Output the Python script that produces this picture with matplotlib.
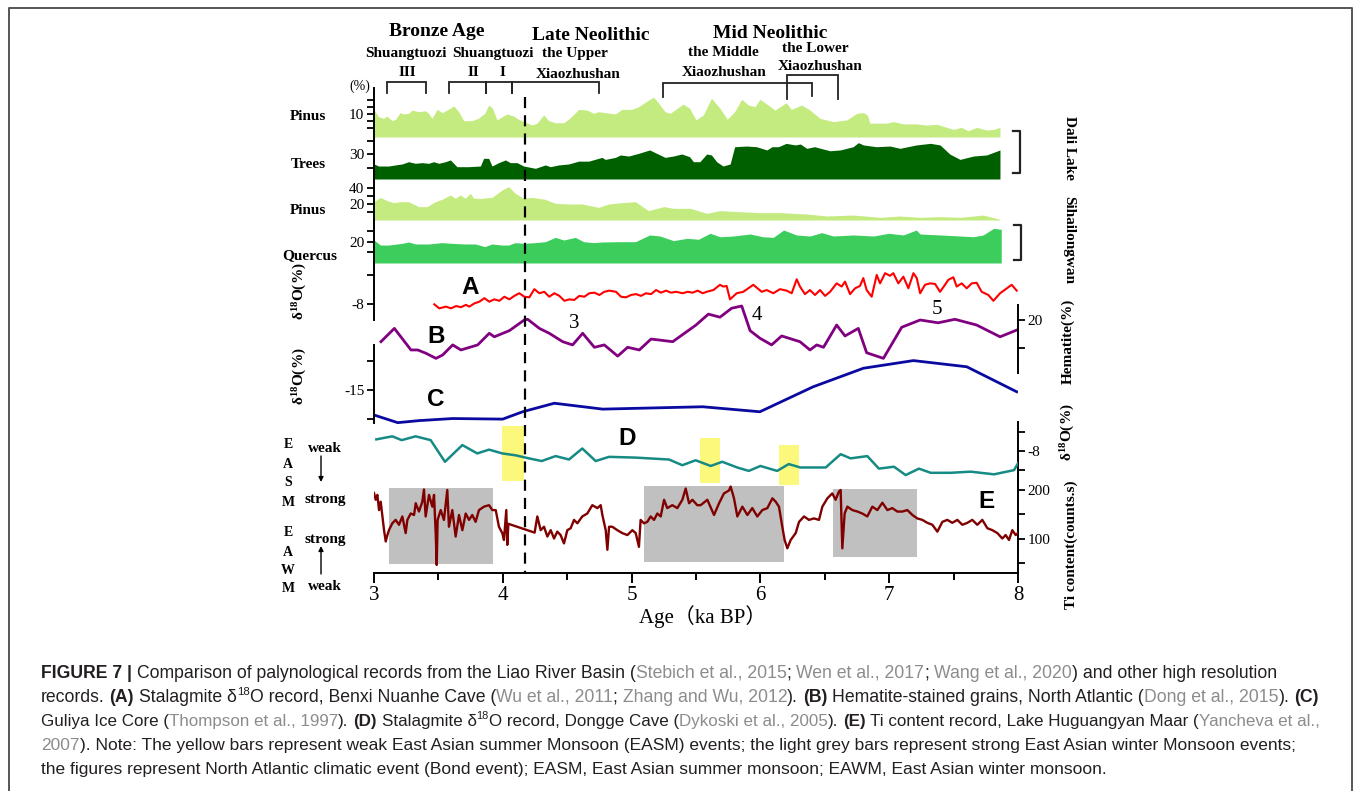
import matplotlib
matplotlib.use("Agg")
import matplotlib.pyplot as plt
from matplotlib.lines import Line2D

W, H = 1355, 791
X0, X1 = 374, 1018          # pixel columns of 3 ka and 8 ka

# ---------------- data (age in ka BP) ----------------
# Dali Lake Pinus (%)
pinus_dali_age = [3.00, 3.036, 3.075, 3.10, 3.14, 3.166, 3.204, 3.23, 3.27, 3.295, 3.347, 3.40,
                  3.424, 3.45, 3.49, 3.53, 3.567, 3.62, 3.657, 3.696, 3.76, 3.81, 3.86, 3.89,
                  3.92, 3.955, 3.994, 4.033, 4.084, 4.123, 4.162, 4.227, 4.266, 4.317, 4.356,
                  4.408, 4.473, 4.51, 4.59, 4.654, 4.705, 4.744, 4.796, 4.874, 4.925, 5.003,
                  5.055, 5.133, 5.17, 5.21, 5.26, 5.30, 5.40, 5.45, 5.50, 5.557, 5.62, 5.686,
                  5.743, 5.80, 5.855, 5.906, 5.958, 5.996, 6.06, 6.113, 6.20, 6.24, 6.32,
                  6.385, 6.463, 6.566, 6.67, 6.75, 6.80, 6.83, 6.85, 6.98, 7.032, 7.11, 7.21,
                  7.29, 7.37, 7.50, 7.56, 7.613, 7.68, 7.757, 7.81, 7.86]
pinus_dali = [11.7, 8.8, 8.1, 9.1, 7.1, 7.7, 10.6, 10.0, 10.3, 11.7, 11.0, 11.4,
              10.3, 8.1, 12.0, 10.6, 11.7, 13.5, 11.0, 7.1, 7.1, 8.1, 10.3, 13.9,
              12.5, 7.4, 8.8, 10.0, 9.1, 7.7, 6.7, 5.2, 6.0, 9.6, 7.1,
              6.2, 6.2, 7.7, 12.0, 11.7, 10.3, 11.0, 10.6, 10.0, 12.0, 12.0,
              13.2, 16.1, 17.3, 14.7, 11.0, 10.3, 14.3, 12.5, 7.4, 9.6, 16.8, 12.5,
              7.7, 11.0, 16.4, 13.9, 13.2, 16.4, 13.9, 11.7, 14.9, 12.0, 13.9,
              11.7, 8.1, 6.7, 7.4, 10.3, 10.6, 9.6, 6.0, 6.0, 6.7, 5.7, 5.7,
              5.2, 5.5, 3.3, 4.2, 2.7, 4.2, 3.0, 3.3, 4.2]

# Dali Lake trees (%)
trees_age = [3.0, 3.036, 3.114, 3.166, 3.217, 3.269, 3.321, 3.373, 3.424, 3.463, 3.502, 3.554,
             3.593, 3.644, 3.735, 3.826, 3.851, 3.89, 3.916, 3.968, 4.02, 4.058, 4.11, 4.162,
             4.253, 4.33, 4.369, 4.434, 4.511, 4.589, 4.667, 4.744, 4.77, 4.796, 4.874, 4.913,
             4.977, 5.055, 5.14, 5.26, 5.325, 5.39, 5.45, 5.48, 5.53, 5.583, 5.62, 5.66, 5.71,
             5.765, 5.80, 5.893, 5.97, 6.05, 6.09, 6.14, 6.20, 6.27, 6.31, 6.36, 6.42, 6.54,
             6.62, 6.72, 6.76, 6.80, 6.90, 7.006, 7.084, 7.21, 7.32, 7.395, 7.47, 7.55, 7.654,
             7.757, 7.86]
trees = [22.6, 21.1, 21.1, 21.9, 22.6, 24.3, 23.1, 23.6, 23.1, 24.3, 23.1, 24.3,
         25.6, 20.6, 20.6, 21.1, 26.8, 26.8, 21.1, 23.6, 25.6, 23.6, 23.6, 21.1,
         19.4, 21.9, 20.6, 21.9, 22.6, 24.7, 24.7, 26.8, 27.5, 26.0, 27.5, 29.3,
         28.5, 30.5, 33.0, 27.5, 28.5, 30.0, 28.0, 24.3, 24.3, 30.0, 29.3, 24.3, 21.1,
         22.6, 35.4, 35.9, 35.4, 33.0, 35.4, 35.4, 37.9, 36.7, 37.4, 34.2, 35.4, 32.4,
         33.0, 35.4, 38.4, 36.7, 35.4, 35.9, 34.2, 36.7, 37.9, 36.7, 30.0, 26.0, 28.5,
         29.3, 33.0]

# Sihailongwan Pinus (%)
pinus_siha_age = [3.0, 3.049, 3.101, 3.153, 3.204, 3.269, 3.347, 3.411, 3.476, 3.528, 3.593,
                  3.631, 3.67, 3.709, 3.748, 3.774, 3.839, 3.916, 3.994, 4.046, 4.097, 4.162,
                  4.227, 4.33, 4.408, 4.511, 4.615, 4.693, 4.744, 4.822, 4.925, 5.029, 5.13,
                  5.25, 5.325, 5.455, 5.583, 5.686, 5.84, 5.996, 6.15, 6.36, 6.515, 6.72,
                  6.93, 7.084, 7.24, 7.395, 7.55, 7.73, 7.86]
pinus_siha = [22.9, 28.3, 24.2, 21.7, 22.9, 22.9, 16.7, 16.7, 22.9, 25.8, 31.3,
              27.1, 31.3, 27.1, 33.3, 27.1, 27.1, 28.3, 37.5, 41.7, 33.3, 27.1,
              28.3, 25.8, 20.8, 20.0, 20.0, 17.5, 15.8, 20.0, 21.7, 22.9, 11.7,
              16.7, 14.6, 14.6, 8.3, 11.7, 10.4, 9.2, 9.2, 7.5, 5.0, 6.2,
              3.3, 5.0, 3.3, 4.2, 3.3, 6.2, 0.8]

# Sihailongwan Quercus (%)
quercus_age = [3.0, 3.049, 3.114, 3.217, 3.269, 3.321, 3.424, 3.528, 3.606, 3.71, 3.787, 3.86,
               3.916, 3.994, 4.046, 4.097, 4.162, 4.253, 4.33, 4.408, 4.473, 4.563, 4.628,
               4.705, 4.77, 4.9, 5.03, 5.14, 5.22, 5.325, 5.43, 5.52, 5.61, 5.686, 5.79, 5.92,
               6.02, 6.10, 6.18, 6.28, 6.385, 6.476, 6.566, 6.72, 6.88, 6.995, 7.11, 7.21,
               7.24, 7.395, 7.55, 7.654, 7.73, 7.81, 7.87]
quercus = [21.9, 17.1, 17.1, 18.7, 20.0, 18.1, 18.1, 19.4, 18.7, 18.1, 18.1, 15.6,
           18.1, 17.1, 17.1, 19.4, 18.7, 19.4, 20.3, 24.4, 21.9, 24.4, 20.3,
           19.4, 20.0, 20.3, 20.3, 26.7, 25.7, 21.3, 23.5, 22.6, 28.3, 25.0, 25.7, 27.6,
           25.0, 24.4, 31.4, 26.7, 25.7, 28.9, 25.7, 26.7, 25.7, 28.3, 26.7, 31.4,
           27.6, 26.7, 25.7, 25.0, 26.7, 33.0, 32.1]

# (A) Nuanhe Cave stalagmite d18O
a_age = [3.468, 3.507, 3.559, 3.598, 3.637, 3.675, 3.714, 3.740, 3.779, 3.818, 3.857, 3.895,
         3.934, 3.973, 4.012, 4.051, 4.090, 4.128, 4.167, 4.206, 4.245, 4.284, 4.322, 4.361,
         4.400, 4.439, 4.478, 4.517, 4.555, 4.594, 4.633, 4.672, 4.711, 4.750, 4.788, 4.827,
         4.879, 4.918, 4.957, 4.995, 5.034, 5.073, 5.112, 5.151, 5.190, 5.228, 5.267, 5.306,
         5.345, 5.397, 5.435, 5.474, 5.513, 5.552, 5.583, 5.635, 5.686, 5.712, 5.738, 5.764,
         5.816, 5.867, 5.945, 6.010, 6.049, 6.100, 6.152, 6.204, 6.243, 6.282, 6.307, 6.346,
         6.385, 6.424, 6.463, 6.502, 6.541, 6.592, 6.631, 6.657, 6.696, 6.735, 6.773, 6.799,
         6.825, 6.864, 6.903, 6.929, 6.968, 7.006, 7.032, 7.071, 7.110, 7.149, 7.188, 7.214,
         7.240, 7.278, 7.317, 7.356, 7.395, 7.433, 7.459, 7.498, 7.524, 7.563, 7.602, 7.641,
         7.679, 7.718, 7.770, 7.809, 7.861, 7.951, 7.990]
a_d18o = [-8.01, -8.15, -8.09, -8.15, -8.07, -8.11, -8.03, -8.09, -7.98, -7.92, -7.80, -7.92,
          -7.84, -7.89, -7.75, -7.84, -7.72, -7.63, -7.75, -7.77, -7.49, -7.63, -7.58, -7.75,
          -7.63, -7.72, -7.89, -7.84, -7.86, -7.72, -7.75, -7.63, -7.61, -7.69, -7.58, -7.54,
          -7.58, -7.75, -7.77, -7.69, -7.66, -7.72, -7.63, -7.66, -7.52, -7.61, -7.54, -7.61,
          -7.58, -7.63, -7.58, -7.61, -7.54, -7.63, -7.58, -7.52, -7.34, -7.40, -7.38, -7.84,
          -7.63, -7.58, -7.34, -7.58, -7.52, -7.63, -7.49, -7.54, -7.63, -7.15, -7.40, -7.66,
          -7.52, -7.69, -7.52, -7.72, -7.58, -7.29, -7.40, -7.23, -7.66, -7.46, -7.38, -7.11,
          -7.52, -7.75, -7.00, -7.29, -6.94, -7.03, -6.94, -7.29, -7.06, -7.46, -6.94, -7.11,
          -7.63, -7.34, -7.29, -7.31, -7.58, -7.34, -7.17, -7.08, -7.40, -7.29, -7.46, -7.29,
          -7.27, -7.58, -7.69, -7.89, -7.63, -7.34, -7.54]

# (B) North Atlantic hematite-stained grains (%)
b_age = [3.054, 3.158, 3.287, 3.339, 3.404, 3.481, 3.533, 3.611, 3.675, 3.805, 3.895, 3.934,
         4.051, 4.167, 4.193, 4.284, 4.361, 4.465, 4.542, 4.62, 4.711, 4.788, 4.892, 4.969,
         5.06, 5.151, 5.319, 5.50, 5.596, 5.686, 5.777, 5.855, 5.92, 5.996, 6.087, 6.165,
         6.307, 6.385, 6.437, 6.49, 6.592, 6.657, 6.76, 6.825, 6.955, 7.097, 7.24, 7.38,
         7.51, 7.679, 7.861, 7.99]
b_hem = [12.25, 17.0, 9.3, 9.3, 8.1, 6.3, 7.5, 11.1, 9.3, 11.1, 15.25, 14.0,
         16.2, 20.0, 20.25, 17.0, 15.25, 12.25, 11.1, 15.25, 10.25, 11.1, 7.1, 10.25,
         9.3, 13.2, 12.25, 18.2, 22.1, 21.0, 24.2, 25.0, 16.2, 13.5, 11.1, 14.3,
         12.25, 9.3, 11.1, 10.25, 18.2, 14.3, 17.0, 8.3, 6.3, 17.4, 20.0, 19.0,
         20.25, 18.2, 14.0, 16.4]

# (C) Guliya ice core d18O
c_age = [3.0, 3.184, 3.352, 3.611, 3.999, 4.154, 4.40, 4.775, 5.552, 5.996, 6.41, 6.80,
         7.188, 7.602, 7.99]
c_d18o = [-15.85, -16.11, -16.04, -15.97, -15.99, -15.74, -15.45, -15.65, -15.57, -15.74,
          -14.89, -14.26, -14.0, -14.21, -15.06]

# (D) Dongge Cave stalagmite d18O
d_age = [3.018, 3.142, 3.215, 3.323, 3.44, 3.551, 3.686, 3.802, 3.893, 3.996, 4.10, 4.203,
         4.302, 4.41, 4.514, 4.617, 4.721, 4.825, 5.032, 5.29, 5.394, 5.497, 5.614, 5.704,
         5.82, 5.91, 6.0, 6.13, 6.22, 6.31, 6.507, 6.623, 6.70, 6.83, 6.92, 7.037, 7.128,
         7.231, 7.322, 7.477, 7.632, 7.814, 7.969, 8.0]
d_d18o = [-7.69, -7.61, -7.71, -7.61, -7.71, -8.28, -7.84, -8.06, -7.96, -8.06, -8.11, -8.19,
          -8.26, -8.13, -8.22, -7.93, -8.26, -8.15, -8.17, -8.22, -8.37, -8.24, -8.39, -8.28,
          -8.43, -8.52, -8.39, -8.52, -8.34, -8.43, -8.43, -8.08, -8.19, -8.13, -8.46, -8.41,
          -8.63, -8.46, -8.57, -8.57, -8.54, -8.61, -8.50, -8.32]

# (E) Lake Huguangyan Maar Ti content (counts/s)
e_age = [3.000, 3.013, 3.026, 3.039, 3.052, 3.065, 3.078, 3.091, 3.104, 3.116, 3.142, 3.168,
         3.194, 3.220, 3.246, 3.259, 3.285, 3.311, 3.324, 3.349, 3.375, 3.388, 3.401, 3.427,
         3.453, 3.466, 3.479, 3.487, 3.494, 3.518, 3.543, 3.569, 3.582, 3.608, 3.634, 3.660,
         3.686, 3.712, 3.738, 3.763, 3.789, 3.815, 3.854, 3.893, 3.919, 3.945, 3.970, 3.996,
         4.009, 4.027, 4.035, 4.043, 4.247, 4.268, 4.294, 4.320, 4.346, 4.372, 4.398, 4.423,
         4.449, 4.475, 4.501, 4.527, 4.553, 4.579, 4.617, 4.656, 4.695, 4.734, 4.760, 4.773,
         4.799, 4.812, 4.825, 4.850, 4.889, 4.928, 4.967, 5.006, 5.032, 5.057, 5.070, 5.096,
         5.122, 5.148, 5.174, 5.200, 5.226, 5.252, 5.277, 5.316, 5.355, 5.394, 5.420, 5.446,
         5.472, 5.510, 5.536, 5.588, 5.640, 5.679, 5.717, 5.756, 5.769, 5.795, 5.821, 5.860,
         5.899, 5.937, 5.976, 6.015, 6.054, 6.093, 6.119, 6.144, 6.170, 6.188, 6.209, 6.235,
         6.274, 6.300, 6.339, 6.377, 6.416, 6.455, 6.481, 6.520, 6.558, 6.584, 6.610, 6.623,
         6.636, 6.654, 6.675, 6.714, 6.753, 6.791, 6.830, 6.869, 6.908, 6.947, 6.986, 7.024,
         7.063, 7.102, 7.141, 7.180, 7.218, 7.257, 7.296, 7.335, 7.374, 7.413, 7.451, 7.490,
         7.529, 7.568, 7.607, 7.645, 7.684, 7.723, 7.762, 7.801, 7.840, 7.878, 7.904, 7.930,
         7.956, 7.982, 8.000]
e_ti = [194, 180, 190, 159, 176, 146, 118, 95, 108, 118, 132, 139,
        129, 146, 112, 139, 152, 149, 173, 156, 176, 201, 146, 190,
        166, 190, 112, 47, 139, 159, 139, 200, 125, 159, 105, 149,
        118, 152, 139, 149, 135, 159, 166, 169, 159, 159, 125, 112,
        98, 159, 88, 131, 113, 146, 118, 125, 105, 118, 101, 115,
        108, 91, 118, 122, 139, 132, 146, 152, 169, 163, 169, 149,
        118, 78, 125, 125, 118, 112, 108, 118, 112, 84, 139, 132,
        135, 146, 139, 152, 146, 180, 163, 169, 163, 180, 203, 173,
        180, 169, 169, 180, 149, 173, 193, 199, 207, 183, 146, 166,
        149, 163, 146, 159, 163, 183, 176, 166, 125, 98, 81, 98,
        112, 135, 146, 139, 142, 139, 166, 183, 193, 180, 197, 200,
        81, 152, 166, 159, 156, 152, 146, 166, 159, 174, 159, 163,
        156, 156, 159, 149, 142, 139, 133, 129, 115, 135, 139, 133,
        139, 129, 133, 139, 129, 139, 122, 118, 112, 101, 108, 98,
        118, 108, 112]

# archaeological cultures (brackets at the top)
culture_start = [3.10, 3.58, 3.87, 4.07, 5.24, 6.21]
culture_end = [3.40, 3.87, 4.07, 4.75, 6.40, 6.60]
boundary_age = 4.17                      # dashed line
weak_easm = [(3.99, 4.165), (5.53, 5.686), (6.144, 6.30)]     # yellow bars
strong_eawm = [(3.116, 3.924), (5.096, 6.183), (6.564, 7.216)]  # grey bars
bond_events = ['3', '4', '5']

# ---------------- style ----------------
plt.rcParams['font.family'] = ['Liberation Serif', 'DejaVu Serif']
plt.rcParams['mathtext.fontset'] = 'custom'
plt.rcParams['mathtext.rm'] = 'Liberation Serif:bold'
plt.rcParams['mathtext.it'] = 'Liberation Serif:bold'
plt.rcParams['mathtext.bf'] = 'Liberation Serif:bold'
SANS = ['Liberation Sans', 'DejaVu Sans']

fig = plt.figure(figsize=(W / 100, H / 100), dpi=100)


def fx(x):
    return x / W


def fy(y):
    return 1 - y / H


def add_ax(top, bottom):
    ax = fig.add_axes([fx(X0), fy(bottom), (X1 - X0) / W, (bottom - top) / H])
    ax.patch.set_alpha(0)
    ax.set_xlim(3, 8)
    for s in ax.spines.values():
        s.set_visible(False)
        s.set_linewidth(1.4)
    ax.set_xticks([])
    ax.tick_params(axis='y', which='major', length=5, width=1.3, labelsize=11, pad=2)
    ax.tick_params(axis='y', which='minor', length=5, width=1.3)
    return ax


def yaxis(ax, side, major, labels, minor, bounds=None):
    ax.spines[side].set_visible(True)
    if bounds is not None:
        ax.spines[side].set_bounds(*bounds)
    if side == 'right':
        ax.yaxis.tick_right()
    else:
        ax.yaxis.tick_left()
    ax.set_yticks(major, labels)
    ax.set_yticks(minor, minor=True)


# pollen panels
ax1 = add_ax(88, 137)
ax1.set_ylim(0, 21.3)
ax1.fill_between(pinus_dali_age, pinus_dali, 0, color='#c4eb80', lw=0)
yaxis(ax1, 'left', [10], ['10'], [4, 7, 13, 16])

ax2 = add_ax(137, 179)
ax2.set_ylim(11.48, 42.6)
ax2.fill_between(trees_age, trees, 11.48, color='#006000', lw=0)
yaxis(ax2, 'left', [30], ['30'], [20, 40])

ax3 = add_ax(179, 220)
ax3.set_ylim(0, 51.25)
ax3.fill_between(pinus_siha_age, pinus_siha, 0, color='#c4eb80', lw=0)
yaxis(ax3, 'left', [20, 40], ['20', '40'], [10, 30])

ax4 = add_ax(220, 263)
ax4.set_ylim(0, 40.95)
ax4.fill_between(quercus_age, quercus, 0, color='#3ccd5c', lw=0)
yaxis(ax4, 'left', [20], ['20'], [10, 30])

# A
axa = add_ax(263, 320)
axa.set_ylim(-8.55, -6.59)
axa.plot(a_age, a_d18o, color='#ff0000', lw=1.5)
yaxis(axa, 'left', [-8], ['-8'], [-7])

# B
axb = add_ax(300, 376)
axb.set_ylim(0, 27.14)
axb.plot(b_age, b_hem, color='#800080', lw=2)
yaxis(axb, 'right', [20], ['20'], [10], bounds=(1.07, 25.4))

# C
axc = add_ax(345, 425)
axc.set_ylim(-16.19, -13.47)
axc.plot(c_age, c_d18o, color='#0a0aa0', lw=2)
yaxis(axc, 'left', [-15], ['-15'], [-16, -14], bounds=(-16.12, -13.47))

# D
axd = add_ax(420, 488)
axd.set_ylim(-8.97, -7.18)
for (s, e), (lo, hi) in zip(weak_easm, [(0.103, 0.912), (0.074, 0.735), (0.044, 0.632)]):
    axd.axvspan(s, e, lo, hi, color='#fcf87c', lw=0, zorder=0)
axd.plot(d_age, d_d18o, color='#168a84', lw=1.8, zorder=3)
yaxis(axd, 'right', [-8], ['-8'], [-7.5, -8.5], bounds=(-8.97, -7.24))

# E
axe = add_ax(470, 573)
axe.set_ylim(30.6, 240.8)
for (s, e), (lo, hi) in zip(strong_eawm, [(0.087, 0.825), (0.107, 0.845), (0.155, 0.816)]):
    axe.axvspan(s, e, lo, hi, color='#c0c0c0', lw=0, zorder=0)
axe.plot(e_age, e_ti, color='#800000', lw=1.7, zorder=3)
yaxis(axe, 'right', [100, 200], ['100', '200'], [50, 150])
axe.spines['bottom'].set_visible(True)
axe.set_xticks([3, 4, 5, 6, 7, 8], ['3', '4', '5', '6', '7', '8'])
axe.set_xticks([3.5, 4.5, 5.5, 6.5, 7.5], minor=True)
axe.tick_params(axis='x', which='major', length=7, width=1.4, labelsize=15, pad=2)
axe.tick_params(axis='x', which='minor', length=5, width=1.4)

# overlay in pixel rows: culture brackets and boundary line
ov = fig.add_axes([fx(X0), 0, (X1 - X0) / W, 1])
ov.patch.set_alpha(0)
ov.axis('off')
ov.set_xlim(3, 8)
ov.set_ylim(H, 0)
bk = dict(color='#222222', lw=1.3, solid_joinstyle='miter')
for s, e in zip(culture_start[:4], culture_end[:4]):
    ov.plot([s, s, e, e], [93, 82, 82, 93], **bk)
ov.plot([culture_start[4], culture_start[4], culture_end[4], culture_end[4]], [97, 83, 83, 96], **bk)
ov.plot([culture_start[5], culture_start[5], culture_end[5], culture_end[5]], [99, 75, 75, 99], **bk)
ov.plot([boundary_age, boundary_age], [97, 573], color='k', lw=1.6, ls=(0, (5, 3.2)))

# right-side site brackets
for top, bot, x in [(131, 173, 1020), (225, 260, 1021)]:
    fig.add_artist(Line2D([fx(x - 7), fx(x), fx(x), fx(x - 7)], [fy(top), fy(top), fy(bot), fy(bot)],
                          color='#222222', lw=1.6))


def t(x, y, s, size=11, bold=True, **kw):
    kw.setdefault('ha', 'center')
    kw.setdefault('va', 'center')
    fig.text(fx(x), fy(y), s, fontsize=size, fontweight='bold' if bold else 'normal', **kw)


# period headers
t(437, 32, 'Bronze Age', 14)
t(591, 35, 'Late Neolithic', 14)
t(770, 33, 'Mid Neolithic', 14)
t(406, 53, 'Shuangtuozi', 11)
t(407, 72, 'III', 11)
t(493, 53, 'Shuangtuozi', 11)
t(473, 73, 'II', 11)
t(502, 73, 'I', 11)
t(575, 54, 'the Upper', 11)
t(578, 74, 'Xiaozhushan', 11)
t(723, 52, 'the Middle', 11)
t(724, 72, 'Xiaozhushan', 11)
t(815, 48, 'the Lower', 11)
t(820, 67, 'Xiaozhushan', 11)

# left labels
t(360, 86, '(%)', 10, bold=False)
t(308, 117, 'Pinus')
t(308, 164, 'Trees')
t(308, 210, 'Pinus')
t(310, 256, 'Quercus')
t(300, 291, r'δ$^{18}$O(%)', 11, rotation=90)
t(300, 376, r'δ$^{18}$O(%)', 11, rotation=90)

# right labels
t(1069, 148, 'Dali Lake', 11, rotation=-90)
t(1069, 240, 'Sihailongwan', 11, rotation=-90)
t(1068, 341, 'Hematite(%)', 11, rotation=90)
t(1068, 432, r'δ$^{18}$O(%)', 11, rotation=90)
t(1071, 545, 'Ti content(counts.s)', 11, rotation=90)

# record letters and Bond events
for (x, y), s in zip([(470, 287), (436, 337), (436, 400), (627, 438), (986, 502)], 'ABCDE'):
    t(x, y, s, 17.5, family=SANS)
for (x, y), s in zip([(574, 323), (757, 316), (937, 309)], bond_events):
    t(x, y, s, 15, bold=False)

# monsoon strength labels
for y, s in zip([445, 464, 483, 502, 532, 552, 571, 589], 'EASMEAWM'):
    t(288, y, s, 10)
t(325, 448, 'weak')
t(325, 499, 'strong')
t(325, 539, 'strong')
t(325, 587, 'weak')
arr = dict(arrowstyle='-|>', color='k', lw=1, mutation_scale=7, shrinkA=0, shrinkB=0)
ov.annotate('', xy=(321, H - 482), xytext=(321, H - 456), xycoords='figure pixels', arrowprops=arr)
ov.annotate('', xy=(321, H - 546), xytext=(321, H - 574), xycoords='figure pixels', arrowprops=arr)

t(703, 617, 'Age（ka BP）', 15, bold=False, family=['Liberation Serif', 'Noto Sans CJK SC'])

# ---------------- caption ----------------
cap_lines = [
    [("FIGURE 7 |", 'b'), (" Comparison of palynological records from the Liao River Basin (", 'n'),
     ("Stebich et al., 2015", 'g'), ("; ", 'n'), ("Wen et al., 2017", 'g'), ("; ", 'n'),
     ("Wang et al., 2020", 'g'), (") and other high resolution", 'n')],
    [("records. ", 'n'), ("(A)", 'b'), (" Stalagmite δ", 'n'), ("18", 's'), ("O record, Benxi Nuanhe Cave (", 'n'),
     ("Wu et al., 2011", 'g'), ("; ", 'n'), ("Zhang and Wu, 2012", 'g'), ("). ", 'n'), ("(B)", 'b'),
     (" Hematite-stained grains, North Atlantic (", 'n'), ("Dong et al., 2015", 'g'), ("). ", 'n'), ("(C)", 'b')],
    [("Guliya Ice Core (", 'n'), ("Thompson et al., 1997", 'g'), ("). ", 'n'), ("(D)", 'b'),
     (" Stalagmite δ", 'n'), ("18", 's'), ("O record, Dongge Cave (", 'n'), ("Dykoski et al., 2005", 'g'),
     ("). ", 'n'), ("(E)", 'b'), (" Ti content record, Lake Huguangyan Maar (", 'n'), ("Yancheva et al.,", 'g')],
    [("2007", 'g'), ("). Note: The yellow bars represent weak East Asian summer Monsoon (EASM) events; "
                     "the light grey bars represent strong East Asian winter Monsoon events;", 'n')],
    [("the figures represent North Atlantic climatic event (Bond event); EASM, East Asian summer monsoon; "
      "EAWM, East Asian winter monsoon.", 'n')],
]
cap_base = [678, 702, 726, 750, 774]
cap_right = [1281, 1322, 1320, 1297, None]   # right ends of the justified lines
rend = fig.canvas.get_renderer()


def piece_kw(style, size):
    kw = dict(fontsize=size, family=SANS, color='#231f20', ha='left', va='baseline')
    if style == 'b':
        kw['fontweight'] = 'bold'
    elif style == 'g':
        kw['color'] = '#8c8c8c'
    elif style == 's':
        kw['fontsize'] = size * 0.65
    return kw


def width(s, kw):
    tt = fig.text(0, 0, s, **kw)
    w = tt.get_window_extent(rend).width
    tt.remove()
    return w


def draw_line(parts, y, size, draw=True):
    x = 41
    for s, style in parts:
        kw = piece_kw(style, size)
        sp = width('a a', kw) - width('aa', kw)
        core = s.strip(' ')
        lead = len(s) - len(s.lstrip(' '))
        trail = len(s) - len(s.rstrip(' '))
        x += lead * sp
        yy = y - size * 0.55 if style == 's' else y
        if draw:
            fig.text(fx(x), fy(yy), core, **kw)
        x += width(core, kw) + trail * sp
    return x


base_size = 12
size = base_size
for parts, y, right in zip(cap_lines, cap_base, cap_right):
    if right is not None:
        end = draw_line(parts, 0, base_size, draw=False)
        size = base_size * (right - 41) / (end - 41)
    draw_line(parts, y, size)

# outer frame
fig.add_artist(Line2D([fx(9), fx(9), fx(1352), fx(1352)], [0, fy(8), fy(8), 0], color='#555555', lw=1.4))

fig.savefig('out.png', dpi=100)
